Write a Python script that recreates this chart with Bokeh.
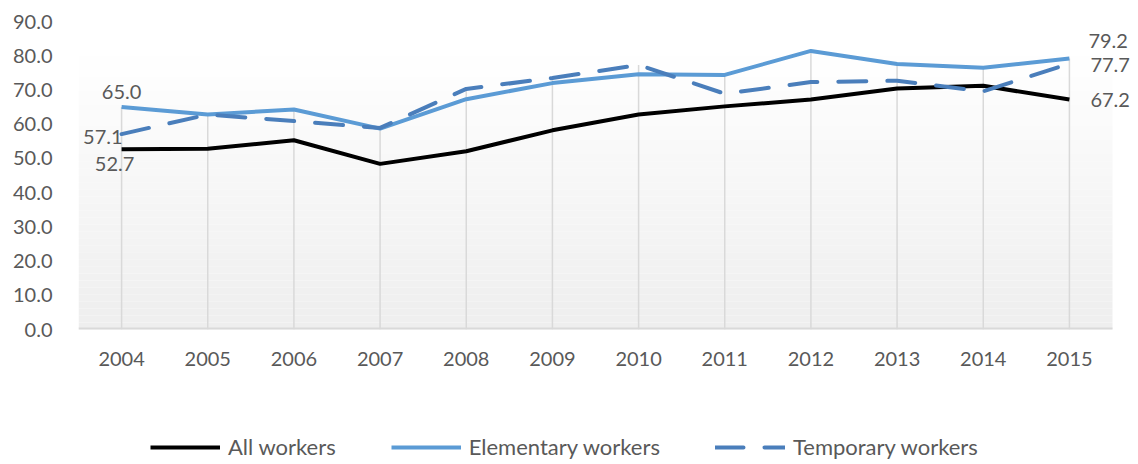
from bokeh.plotting import figure
from bokeh.layouts import column
from bokeh.models import (ColumnDataSource, Range1d, FixedTicker, PrintfTickFormatter,
                          Legend, LegendItem, LabelSet, Quad)
from bokeh.core.properties import value
from bokeh.embed import file_html
from bokeh.resources import INLINE

# ---------------- data ----------------
years = ["2004", "2005", "2006", "2007", "2008", "2009",
         "2010", "2011", "2012", "2013", "2014", "2015"]
all_workers = [52.7, 52.8, 55.3, 48.4, 52.1, 58.2, 62.8, 65.2, 67.2, 70.4, 71.2, 67.2]
elementary_workers = [65.0, 62.8, 64.3, 58.7, 67.3, 72.0, 74.6, 74.4, 81.4, 77.6, 76.5, 79.2]
temporary_workers = [57.1, 62.8, 60.9, 58.9, 70.3, 73.5, 77.3, 68.9, 72.3, 72.7, 69.6, 77.7]
series_names = ["All workers", "Elementary workers", "Temporary workers"]
y_ticks = [0, 10, 20, 30, 40, 50, 60, 70, 80, 90]

FONT = "Lato"
TXT = "#595959"
C_ALL, C_ELE, C_TMP = "black", "#5b9bd5", "#4a7ebb"
DASH = "28 21"

W = 1138
H_MAIN, H_LEG = 400, 64
LEFT, PLOT_RIGHT, RIGHT_EDGE, TOP, BOTTOM = 78, 1112, 1136, 21, 329
n_cat = len(years)
unit = (PLOT_RIGHT - LEFT) / n_cat
x_end = n_cat - 0.5 + (RIGHT_EDGE - PLOT_RIGHT) / unit
xs = list(range(n_cat))

p = figure(width=W, height=H_MAIN, output_backend="svg", toolbar_location=None,
           x_range=Range1d(-0.5, x_end), y_range=Range1d(0, 90),
           min_border_left=LEFT, min_border_right=W - RIGHT_EDGE,
           min_border_top=TOP, min_border_bottom=H_MAIN - BOTTOM)
p.outline_line_color = None
p.background_fill_color = "white"
p.border_fill_color = "white"
p.xgrid.grid_line_color = None
p.ygrid.grid_line_color = None

# gradient plot-area background (decoration)
n = 40
top_val = 82.0
bands_bottom, bands_top, band_cols = [], [], []
for i in range(n):
    f = (i + 0.5) / n
    c = int(round(238 + (255 - 238) * f))
    bands_bottom.append(top_val * i / n)
    bands_top.append(top_val * (i + 1) / n)
    band_cols.append("#%02x%02x%02x" % (c, c, c))
band_src = ColumnDataSource(dict(b=bands_bottom, t=bands_top, c=band_cols))
p.add_glyph(band_src, Quad(left=-0.5, right=n_cat - 0.5, bottom="b", top="t",
                           fill_color="c", line_color=None))

# drop lines
drop_top = [max(a, e, t) for a, e, t in zip(all_workers, elementary_workers, temporary_workers)]
p.segment(x0=xs, y0=[0] * n_cat, x1=xs, y1=drop_top, line_color="#d9d9d9", line_width=1.5)
# category axis line
p.segment(x0=[-0.5], y0=[0], x1=[n_cat - 0.5], y1=[0], line_color="#d9d9d9", line_width=4)

src = ColumnDataSource(dict(x=xs, a=all_workers, e=elementary_workers, t=temporary_workers))
p.line("x", "a", source=src, line_color=C_ALL, line_width=4, line_join="round")
p.line("x", "e", source=src, line_color=C_ELE, line_width=4, line_join="round")
p.line("x", "t", source=src, line_color=C_TMP, line_width=4,
       line_dash=DASH, line_cap="round", line_join="round")

# data labels (first and last points)
lab_x = [xs[0], xs[0], xs[0], xs[-1], xs[-1], xs[-1]]
lab_y = [elementary_workers[0], temporary_workers[0], all_workers[0],
         elementary_workers[-1], temporary_workers[-1], all_workers[-1]]
lab_t = ["%.1f" % v for v in lab_y]
lab_align = ["center", "right", "center", "left", "left", "left"]
lab_dx = [0, 1, -7, 19, 21, 21]
lab_dy = [15, -3, -15, 17, -1, 0]
lsrc = ColumnDataSource(dict(x=lab_x, y=lab_y, t=lab_t, al=lab_align, dx=lab_dx, dy=lab_dy))
labels = LabelSet(x="x", y="y", text="t", source=lsrc, x_offset="dx", y_offset="dy",
                  text_align="al", text_baseline="middle", text_font=value(FONT),
                  text_font_size="20px", text_color=TXT)
p.add_layout(labels)

# axes
p.xaxis.ticker = FixedTicker(ticks=xs)
p.xaxis.major_label_overrides = {i: y for i, y in zip(xs, years)}
p.xaxis.axis_line_color = None
p.xaxis.major_tick_line_color = None
p.xaxis.minor_tick_line_color = None
p.xaxis.major_label_standoff = 16
p.xaxis.major_label_text_font = FONT
p.xaxis.major_label_text_font_size = "20px"
p.xaxis.major_label_text_color = TXT

p.yaxis.ticker = FixedTicker(ticks=y_ticks)
p.yaxis.formatter = PrintfTickFormatter(format="%.1f")
p.yaxis.axis_line_color = None
p.yaxis.major_tick_line_color = None
p.yaxis.minor_tick_line_color = None
p.yaxis.major_label_standoff = 20
p.yaxis.major_label_text_font = FONT
p.yaxis.major_label_text_font_size = "20px"
p.yaxis.major_label_text_color = TXT

# ---- legend strip (series shown out of view, only their legend entries appear) ----
leg = figure(width=W, height=H_LEG, output_backend="svg", toolbar_location=None,
             x_axis_type=None, y_axis_type=None, min_border=0,
             x_range=Range1d(1000, 1001), y_range=Range1d(1000, 1001))
leg.outline_line_color = None
leg.xgrid.grid_line_color = None
leg.ygrid.grid_line_color = None
l_all = leg.line(xs, all_workers, line_color=C_ALL, line_width=4)
l_ele = leg.line(xs, elementary_workers, line_color=C_ELE, line_width=4)
l_tmp = leg.line(xs, temporary_workers, line_color=C_TMP, line_width=4,
                 line_dash=DASH, line_cap="round")
legend = Legend(items=[LegendItem(label=series_names[0], renderers=[l_all]),
                       LegendItem(label=series_names[1], renderers=[l_ele]),
                       LegendItem(label=series_names[2], renderers=[l_tmp])],
                orientation="horizontal", location=(72, 4),
                glyph_width=70, glyph_height=20, label_height=20, label_standoff=8,
                spacing=55, padding=0, margin=0,
                border_line_color=None, background_fill_alpha=0,
                label_text_font=FONT, label_text_font_size="22px", label_text_color=TXT)
leg.add_layout(legend, "center")

layout = column(p, leg, spacing=0)
open("out.html", "w").write(file_html(layout, INLINE))
